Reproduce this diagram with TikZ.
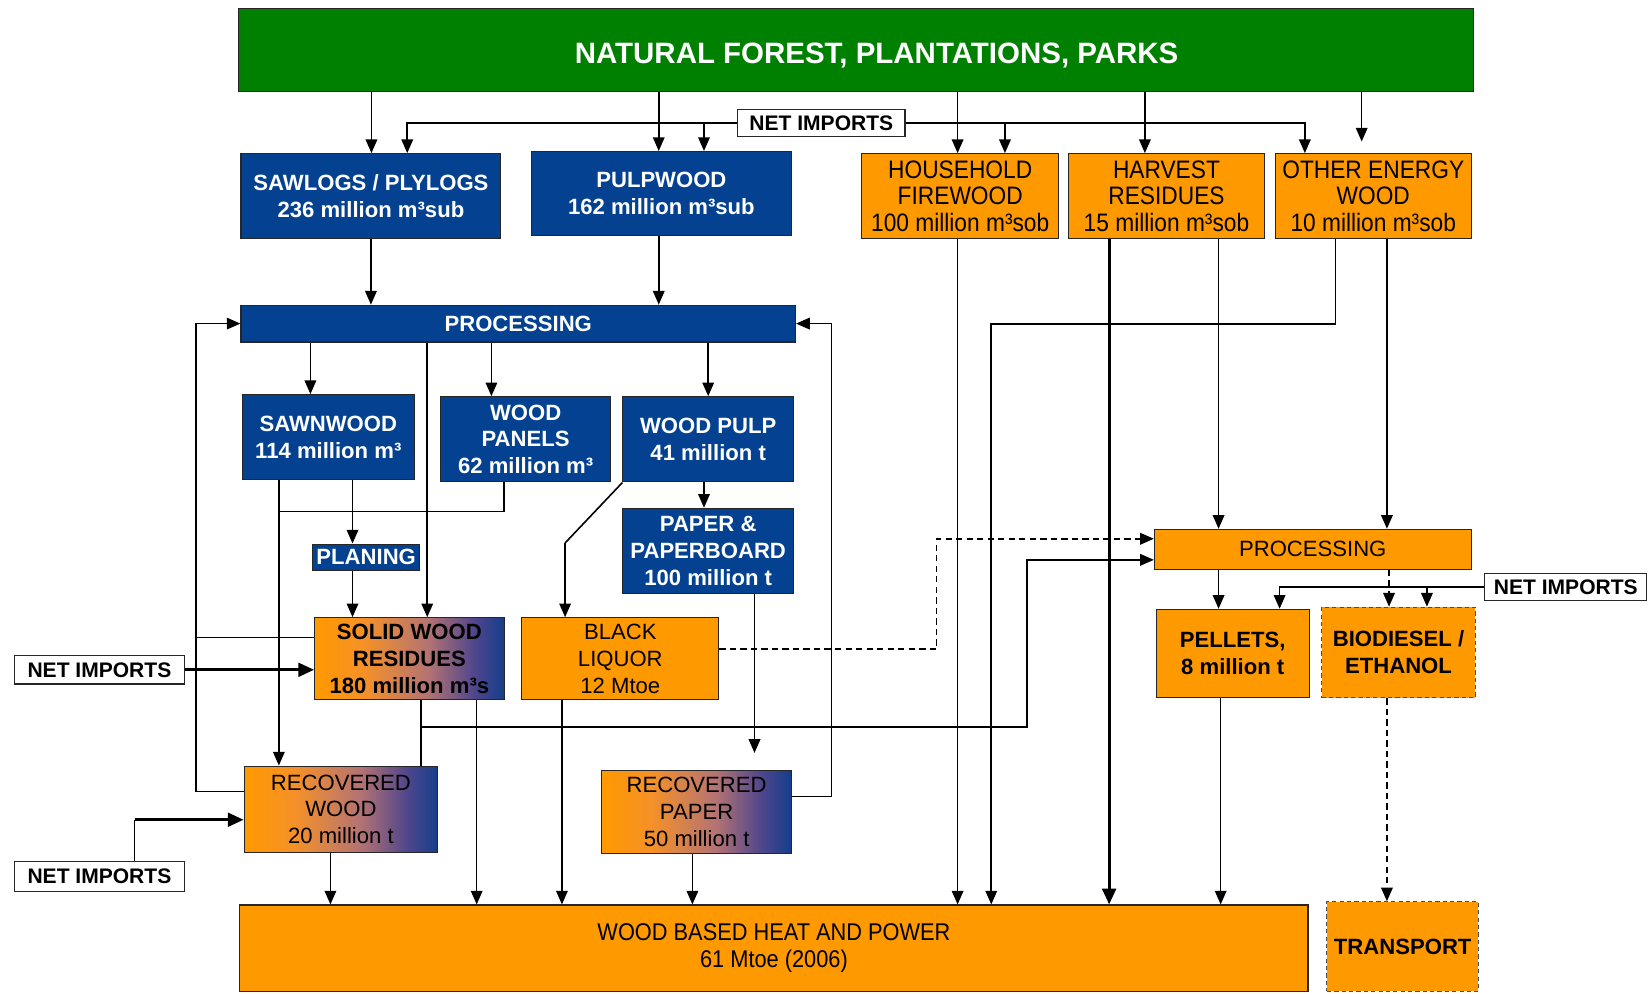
\documentclass[tikz,border=0pt]{standalone}
\usepackage{fontspec}
\setmainfont{Liberation Sans}
\newfontfamily\narrowsf[FakeStretch=0.9]{Liberation Sans}
\usetikzlibrary{arrows.meta,calc}

\definecolor{forestgreen}{RGB}{0,128,0}
\definecolor{woodblue}{RGB}{4,66,145}
\definecolor{woodorange}{RGB}{255,153,0}
\definecolor{shadeA}{RGB}{245,145,40}
\definecolor{shadeB}{RGB}{180,115,115}
\definecolor{shadeC}{RGB}{80,70,140}
\definecolor{shadeD}{RGB}{20,62,140}

% orange-to-blue blend for the mixed residue / recovery boxes
\pgfdeclarehorizontalshading{residueshade}{100bp}{%
  color(0bp)=(woodorange); color(25bp)=(woodorange); color(38bp)=(shadeA);
  color(55bp)=(shadeB); color(67bp)=(shadeC); color(75bp)=(shadeD); color(100bp)=(shadeD)}

\begin{document}
\begin{tikzpicture}[x=1pt,y=-1pt,
  box/.style={draw=black!85, line width=1pt, inner sep=0pt, align=center},
  bluebox/.style={box, fill=woodblue, text=white, font=\fontsize{21}{25.5}\selectfont\bfseries},
  topbox/.style={box, fill=woodorange, text=black, font=\narrowsf\fontsize{24}{25}\selectfont},
  orangebox/.style={box, fill=woodorange, text=black, font=\fontsize{21}{25.5}\selectfont},
  mixbox/.style={box, shade, shading=residueshade, text=black, font=\fontsize{21}{25.5}\selectfont},
  dashbox/.style={box, draw=black!70, dash pattern=on 4pt off 3pt, fill=woodorange, text=black, font=\fontsize{21}{25.5}\selectfont\bfseries},
  importbox/.style={box, fill=white, text=black, font=\fontsize{20}{24}\selectfont\bfseries},
  link/.style={line width=1.5pt},
  flow/.style={line width=1.5pt, -{Triangle[length=13pt,width=11pt]}},
  dflow/.style={flow, dash pattern=on 6pt off 4pt},
  heavy/.style={line width=2.8pt, -{Triangle[length=15pt,width=13pt]}}
]
\useasboundingbox[fill=white] (0,0) rectangle (1568,945);

% ---------- source and primary assortments ----------
\node[box, fill=forestgreen, text=white, font=\fontsize{28}{32}\selectfont\bfseries,
      minimum width=1173pt, minimum height=79pt] (forest) at (813.5,47.5)
      {\hspace*{39pt}\raisebox{-12.5pt}[0pt][0pt]{NATURAL FOREST, PLANTATIONS, PARKS}};

\node[bluebox, minimum width=247pt, minimum height=81pt] (sawlogs) at (352.5,186.5)
      {SAWLOGS / PLYLOGS\\236 million m³sub};
\node[bluebox, minimum width=247pt, minimum height=80pt] (pulpwood) at (628.5,184)
      {PULPWOOD\\162 million m³sub};
\node[topbox, minimum width=187pt, minimum height=81pt] (household) at (912.5,186.5)
      {HOUSEHOLD\\FIREWOOD\\100 million m³sob};
\node[topbox, minimum width=187pt, minimum height=81pt] (harvest) at (1108.5,186.5)
      {HARVEST\\RESIDUES\\15 million m³sob};
\node[topbox, minimum width=186pt, minimum height=81pt] (otherenergy) at (1305,186.5)
      {OTHER ENERGY\\WOOD\\10 million m³sob};
\node[importbox, minimum width=159pt, minimum height=26pt] (netTop) at (780.5,117) {NET IMPORTS};

% ---------- forest industry ----------
\node[bluebox, minimum width=527pt, minimum height=35pt] (procB) at (492.5,307.5) {PROCESSING};
\node[bluebox, minimum width=164pt, minimum height=81pt] (sawnwood) at (312,415.5)
      {SAWNWOOD\\114 million m³};
\node[bluebox, minimum width=161pt, minimum height=81pt] (panels) at (499.5,417.5)
      {WOOD\\PANELS\\62 million m³};
\node[bluebox, minimum width=162pt, minimum height=81pt] (pulp) at (673,417.5)
      {WOOD PULP\\41 million t};
\node[bluebox, minimum width=162pt, minimum height=81pt] (paper) at (673,523.5)
      {PAPER \&\\PAPERBOARD\\100 million t};
\node[bluebox, minimum width=102pt, minimum height=25pt] (planing) at (348,529.5) {PLANING};

\node[mixbox, minimum width=180pt, minimum height=78pt, font=\fontsize{21}{25.5}\selectfont\bfseries] (swr) at (389,626)
      {SOLID WOOD\\RESIDUES\\180 million m³s};
\node[orangebox, minimum width=187pt, minimum height=78pt] (blackliquor) at (589.5,626)
      {BLACK\\LIQUOR\\12 Mtoe};
\node[mixbox, minimum width=184pt, minimum height=82pt] (recwood) at (324,769)
      {RECOVERED\\WOOD\\20 million t};
\node[mixbox, minimum width=180pt, minimum height=79pt] (recpaper) at (662,771.5)
      {RECOVERED\\PAPER\\50 million t};
\node[importbox, minimum width=161pt, minimum height=27pt] (netL1) at (94.5,636.5) {NET IMPORTS};
\node[importbox, minimum width=161pt, minimum height=28pt] (netL2) at (94.5,833) {NET IMPORTS};

% ---------- energy side ----------
\node[orangebox, minimum width=301pt, minimum height=38pt] (procO) at (1247.5,522) {PROCESSING};
\node[orangebox, minimum width=145pt, minimum height=84pt, font=\fontsize{21}{25.5}\selectfont\bfseries] (pellets) at (1171.5,621)
      {PELLETS,\\8 million t};
\node[dashbox, minimum width=146pt, minimum height=86pt] (biodiesel) at (1329,620)
      {BIODIESEL /\\ETHANOL};
\node[importbox, minimum width=154pt, minimum height=26pt] (netR) at (1488,558) {NET IMPORTS};
\node[topbox, minimum width=1015pt, minimum height=82pt, font=\narrowsf\fontsize{23}{26}\selectfont] (heat) at (735.5,901)
      {WOOD BASED HEAT AND POWER\\61 Mtoe (2006)};
\node[dashbox, minimum width=144pt, minimum height=85pt] (transport) at (1333,899.5) {TRANSPORT};

% ---------- connector columns and bends ----------
\path (353,0) coordinate (cSaw)  (626,0) coordinate (cPulp) (910,0) coordinate (cHouse)
      (1088,0) coordinate (cHarv) (1294,0) coordinate (cOther)
      (387,0) coordinate (iSaw)  (669,0) coordinate (iPulp) (955,0) coordinate (iHouse)
      (1240,0) coordinate (iOther)
      (295,0) coordinate (cSawn) (467,0) coordinate (cPan) (406,0) coordinate (cRes)
      (265,0) coordinate (cRw)   (335,0) coordinate (cPl)  (479,0) coordinate (cPanOut)
      (669,0) coordinate (cPap)  (717,0) coordinate (cRp)  (453,0) coordinate (cS2)
      (534,0) coordinate (cBl)   (658,0) coordinate (cRp2) (314,0) coordinate (cRw2)
      (1054,0) coordinate (cH1)  (1158,0) coordinate (cH2) (1318,0) coordinate (cO2)
      (1320,0) coordinate (cBd)  (1216,0) coordinate (cNp) (1356,0) coordinate (cNb)
      (1160,0) coordinate (cPe)
      (265,486) coordinate (j1)  (537,516) coordinate (k1)
      (186,752) coordinate (L2)  (186,606) coordinate (L3)
      (128,779) coordinate (n2)
      (400,691) coordinate (s1)  (976,691) coordinate (s2)
      (890,617) coordinate (b1)  (790,757) coordinate (p1)
      (1269,308) coordinate (o1) (942,308) coordinate (o2);

% forest to assortments
\draw[flow] (forest.south -| cSaw) -- (sawlogs.north -| cSaw);
\draw[flow] (forest.south -| cPulp) -- (pulpwood.north -| cPulp);
\draw[flow] (forest.south -| cHouse) -- (household.north -| cHouse);
\draw[flow] (forest.south -| cHarv) -- (harvest.north -| cHarv);
\draw[flow] (forest.south -| cOther) -- ($(otherenergy.north -| cOther)+(0,-11)$);

% imports of round wood
\draw[flow] (netTop.west) -| (sawlogs.north -| iSaw);
\draw[flow] (netTop.west -| iPulp) -- (pulpwood.north -| iPulp);
\draw[flow] (netTop.east) -| (otherenergy.north -| iOther);
\draw[flow] (netTop.east -| iHouse) -- (household.north -| iHouse);

% into forest industry processing
\draw[flow] (sawlogs.south) -- (procB.north -| sawlogs.south);
\draw[flow] (pulpwood.south -| cPulp) -- (procB.north -| cPulp);

% processing products
\draw[flow] (procB.south -| cSawn) -- (sawnwood.north -| cSawn);
\draw[flow] (procB.south -| cPan) -- (panels.north -| cPan);
\draw[flow] (procB.south -| pulp.north) -- (pulp.north);
\draw[flow] (procB.south -| cRes) -- (swr.north -| cRes);

\draw[flow] (sawnwood.south -| cRw) -- (recwood.north -| cRw);
\draw[flow] (sawnwood.south -| cPl) -- (planing.north -| cPl);
\draw[link] (panels.south -| cPanOut) |- (j1);
\draw[flow] (planing.south -| cPl) -- (swr.north -| cPl);
\draw[flow] (pulp.south -| cPap) -- (paper.north -| cPap);
\draw[link] (pulp.south west) -- (k1);
\draw[flow] (k1) -- (blackliquor.north -| k1);
\draw[flow] (paper.south -| cRp) -- ($(recpaper.north -| cRp)+(0,-16)$);

% recycling loops back to processing
\draw[flow] (recwood.west |- L2) -- (L2) |- (procB.west);
\draw[link] (swr.west |- L3) -- (L3);
\draw[flow] (recpaper.east |- p1) -- (p1) |- (procB.east);

% imports of residues and recovered wood
\draw[heavy] (netL1.east) -- (swr.west |- netL1.east);
\draw[link] (netL2.north -| n2) -- (n2);
\draw[heavy] (n2) -- (recwood.west |- n2);

% residues and liquor
\draw[link] (swr.south -| s1) -- (recwood.north -| s1);
\draw[flow] (s1) -- (s2) |- ($(procO.west)+(0,10)$);
\draw[flow] (swr.south -| cS2) -- (heat.north -| cS2);
\draw[dflow] (blackliquor.east |- b1) -- (b1) |- ($(procO.west)+(0,-10)$);
\draw[flow] (blackliquor.south -| cBl) -- (heat.north -| cBl);
\draw[flow] (recpaper.south -| cRp2) -- (heat.north -| cRp2);
\draw[flow] (recwood.south -| cRw2) -- (heat.north -| cRw2);

% energy wood
\draw[flow] (household.south -| cHouse) -- (heat.north -| cHouse);
\draw[heavy] (harvest.south -| cH1) -- (heat.north -| cH1);
\draw[flow] (harvest.south -| cH2) -- (procO.north -| cH2);
\draw[flow] (otherenergy.south -| o1) -- (o1) -- (o2) -- (heat.north -| o2);
\draw[flow] (otherenergy.south -| cO2) -- (procO.north -| cO2);

% energy processing
\draw[flow] (procO.south -| cH2) -- (pellets.north -| cH2);
\draw[dflow] (procO.south -| cBd) -- (biodiesel.north -| cBd);
\draw[flow] (netR.west) -| (pellets.north -| cNp);
\draw[dflow] (netR.west -| cNb) -- (biodiesel.north -| cNb);
\draw[flow] (pellets.south -| cPe) -- (heat.north -| cPe);
\draw[dflow] (biodiesel.south -| cO2) -- (transport.north -| cO2);
\end{tikzpicture}
\end{document}
